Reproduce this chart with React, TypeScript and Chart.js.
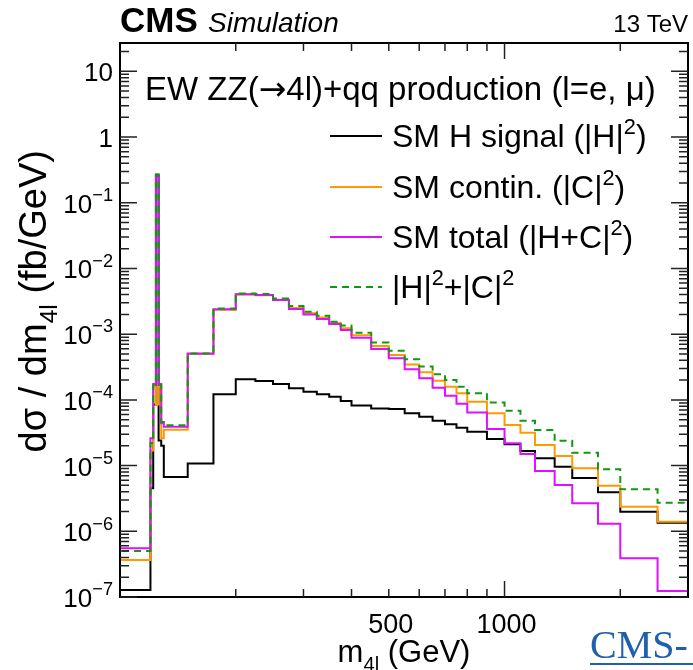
import React, { useEffect, useRef } from 'react';
import { Chart, registerables } from 'chart.js';

Chart.register(...registerables);

// ---------- data ----------
const binEdges = [100, 120, 122, 124, 126, 128, 130, 150, 175, 200, 225, 250, 275, 300, 325, 350, 375, 400, 450, 500, 550, 600, 650, 700, 750, 800, 900, 1000, 1100, 1200, 1350, 1500, 1750, 2000, 2500, 3000];

const signalH = [1.28e-7, 4.5e-6, 8.5e-5, 0.26, 2.4e-5, 2.0e-5, 6.7e-6, 1.08e-5, 1.22e-4, 2.06e-4, 1.94e-4, 1.75e-4, 1.5e-4, 1.33e-4, 1.22e-4, 1.12e-4, 9.6e-5, 8.2e-5, 7.4e-5, 7.26e-5, 6.25e-5, 5.56e-5, 4.83e-5, 4.25e-5, 3.78e-5, 3.28e-5, 2.54e-5, 2.11e-5, 1.67e-5, 1.29e-5, 9.6e-6, 6.5e-6, 3.92e-6, 1.99e-6, 1.35e-6];

const continuumC = [3.65e-7, 1.7e-5, 1.6e-4, 8.5e-5, 1.6e-4, 2.6e-5, 3.5e-5, 5.0e-4, 2.35e-3, 4.0e-3, 3.9e-3, 3.35e-3, 2.5e-3, 2.08e-3, 1.8e-3, 1.48e-3, 1.23e-3, 9.6e-4, 6.6e-4, 4.82e-4, 3.47e-4, 2.63e-4, 1.96e-4, 1.59e-4, 1.26e-4, 9.4e-5, 6.25e-5, 4.15e-5, 3.17e-5, 2.06e-5, 1.4e-5, 9.1e-6, 4.95e-6, 2.37e-6, 1.4e-6];

const totalHC = [5.5e-7, 2.6e-5, 1.75e-4, 0.27, 1.75e-4, 4.4e-5, 3.9e-5, 5.1e-4, 2.39e-3, 4.05e-3, 3.95e-3, 3.32e-3, 2.42e-3, 2.0e-3, 1.7e-3, 1.43e-3, 1.16e-3, 8.86e-4, 5.95e-4, 4.3e-4, 2.92e-4, 2.13e-4, 1.53e-4, 1.16e-4, 8.7e-5, 6.4e-5, 3.6e-5, 2.18e-5, 1.5e-5, 8.3e-6, 5.07e-6, 2.67e-6, 1.3e-6, 3.88e-7, 1.23e-7];

const sumH2C2 = [5.0e-7, 2.2e-5, 1.7e-4, 0.27, 1.7e-4, 4.6e-5, 4.1e-5, 5.1e-4, 2.45e-3, 4.15e-3, 4.1e-3, 3.5e-3, 2.68e-3, 2.2e-3, 1.91e-3, 1.55e-3, 1.35e-3, 1.05e-3, 7.5e-4, 5.61e-4, 4.14e-4, 3.21e-4, 2.45e-4, 2.01e-4, 1.59e-4, 1.26e-4, 9.1e-5, 6.85e-5, 4.83e-5, 3.48e-5, 2.39e-5, 1.57e-5, 8.8e-6, 4.36e-6, 2.73e-6];

const X_MIN = 100;
const X_MAX = 3000;
const Y_MIN = 1e-7;
const Y_MAX = 27;

const yLabelExponents = [1, 0, -1, -2, -3, -4, -5, -6, -7];
const xMinorTickValues = [200, 300, 400, 500, 600, 700, 800, 900, 2000];
const xMajorTickValues = [1000];
const xTickLabels = [500, 1000];

const FONT = '"Liberation Sans", Arial, Helvetica, sans-serif';
const SERIF = '"Liberation Serif", "Times New Roman", serif';
const SYMBOL = '"DejaVu Sans", sans-serif';

type Part = { t: string; s: number; dy?: number; f?: string; fam?: string };

function sup(t: string, base: number): Part {
  return { t, s: base * 0.68, dy: -base * 0.42 };
}
function sub(t: string, base: number): Part {
  return { t, s: base * 0.65, dy: base * 0.28 };
}

function drawRich(ctx: CanvasRenderingContext2D, parts: Part[], x: number, y: number, align: 'left' | 'right' | 'center') {
  const fontOf = (p: Part) => `${p.f || ''} ${p.s}px ${p.fam || FONT}`;
  const widths = parts.map((p) => {
    ctx.font = fontOf(p);
    return ctx.measureText(p.t).width;
  });
  const total = widths.reduce((a, b) => a + b, 0);
  let cx = align === 'left' ? x : align === 'right' ? x - total : x - total / 2;
  ctx.textAlign = 'left';
  ctx.textBaseline = 'alphabetic';
  parts.forEach((p, i) => {
    ctx.font = fontOf(p);
    ctx.fillText(p.t, cx, y + (p.dy || 0));
    cx += widths[i];
  });
}

const LEG = 32;
const legendEntries: { parts: Part[]; color: string; dash: number[] }[] = [
  { parts: [{ t: 'SM H signal (|H|', s: LEG }, sup('2', LEG), { t: ')', s: LEG }], color: '#000000', dash: [] },
  { parts: [{ t: 'SM contin. (|C|', s: LEG }, sup('2', LEG), { t: ')', s: LEG }], color: '#ff9900', dash: [] },
  { parts: [{ t: 'SM total (|H+C|', s: LEG }, sup('2', LEG), { t: ')', s: LEG }], color: '#dd11ff', dash: [] },
  { parts: [{ t: '|H|', s: LEG }, sup('2', LEG), { t: '+|C|', s: LEG }, sup('2', LEG)], color: '#119911', dash: [7, 5] },
];

function toSteps(values: number[]) {
  const pts: { x: number; y: number }[] = [{ x: binEdges[0], y: Y_MIN }];
  values.forEach((v, i) => pts.push({ x: binEdges[i], y: v }));
  pts.push({ x: binEdges[binEdges.length - 1], y: values[values.length - 1] });
  return pts;
}

const rootStyle = {
  id: 'rootStyle',
  afterDatasetsDraw(chart: any) {
    const ctx: CanvasRenderingContext2D = chart.ctx;
    const xs = chart.scales.x;
    const ys = chart.scales.y;
    const { left, right, top, bottom } = chart.chartArea;
    ctx.save();
    ctx.fillStyle = '#000';
    ctx.strokeStyle = '#000';

    // frame
    ctx.lineWidth = 2;
    ctx.strokeRect(left, top, right - left, bottom - top);

    // y ticks
    ctx.lineWidth = 1.5;
    ctx.strokeStyle = '#222';
    for (let d = -7; d <= 1; d++) {
      for (let k = 1; k <= 9; k++) {
        const v = k * Math.pow(10, d);
        if (v < Y_MIN || v > Y_MAX) continue;
        const py = ys.getPixelForValue(v);
        const len = k === 1 ? 17 : 9;
        ctx.beginPath();
        ctx.moveTo(left, py);
        ctx.lineTo(left + len, py);
        ctx.moveTo(right, py);
        ctx.lineTo(right - len, py);
        ctx.stroke();
      }
    }
    // x ticks
    const xt = [...xMinorTickValues.map((v) => [v, 8]), ...xMajorTickValues.map((v) => [v, 16])];
    xt.forEach(([v, len]) => {
      const px = xs.getPixelForValue(v);
      ctx.beginPath();
      ctx.moveTo(px, bottom);
      ctx.lineTo(px, bottom - len);
      ctx.moveTo(px, top);
      ctx.lineTo(px, top + len);
      ctx.stroke();
    });

    // y tick labels
    const TL = 26;
    yLabelExponents.forEach((e) => {
      const py = ys.getPixelForValue(Math.pow(10, e));
      let parts: Part[];
      if (e === 1) parts = [{ t: '10', s: TL }];
      else if (e === 0) parts = [{ t: '1', s: TL }];
      else parts = [{ t: '10', s: TL }, { t: '\u2212' + String(-e), s: TL * 0.7, dy: -TL * 0.45 }];
      drawRich(ctx, parts, left - 7, py + 10, 'right');
    });

    // x tick labels
    xTickLabels.forEach((v) => {
      const px = xs.getPixelForValue(v);
      drawRich(ctx, [{ t: String(v), s: 27 }], px + 2, bottom + 36, 'center');
    });

    // axis titles
    const AT = 31;
    drawRich(ctx, [{ t: 'm', s: AT }, sub('4l', AT), { t: ' (GeV)', s: AT }], (left + right) / 2, 662, 'center');
    ctx.save();
    ctx.translate(46, 150);
    ctx.rotate(-Math.PI / 2);
    const YT = 38;
    drawRich(ctx, [{ t: 'd\u03c3 / dm', s: YT }, sub('4l', YT), { t: ' (fb/GeV)', s: YT }], 0, 0, 'right');
    ctx.restore();

    // header
    drawRich(ctx, [{ t: 'CMS', s: 35, f: 'bold' }], left, 32, 'left');
    drawRich(ctx, [{ t: 'Simulation', s: 28, f: 'italic' }], left + 88, 32, 'left');
    drawRich(ctx, [{ t: '13 TeV', s: 24 }], right, 32, 'right');

    // process label
    const PL = 33;
    drawRich(
      ctx,
      [
        { t: 'EW ZZ(', s: PL },
        { t: '\u2192', s: PL, fam: SYMBOL },
        { t: '4l)+qq production (l=e, \u03bc)', s: PL },
      ],
      left + 25,
      100,
      'left'
    );

    // legend
    const rowBase = [147, 198, 248, 298];
    legendEntries.forEach((en, i) => {
      const yb = rowBase[i];
      ctx.save();
      ctx.strokeStyle = en.color;
      ctx.lineWidth = 2;
      ctx.setLineDash(en.dash);
      ctx.beginPath();
      ctx.moveTo(330, yb - 11);
      ctx.lineTo(382, yb - 11);
      ctx.stroke();
      ctx.restore();
      ctx.fillStyle = '#000';
      drawRich(ctx, en.parts, 392, yb, 'left');
    });

    // blue link fragment
    ctx.fillStyle = '#1f5fae';
    ctx.font = `40px ${SERIF}`;
    ctx.textAlign = 'left';
    ctx.fillText('CMS-', 590, 658);
    ctx.fillRect(590, 663, 110, 2);

    ctx.restore();
  },
};

export default function App() {
  const ref = useRef<HTMLCanvasElement>(null);
  useEffect(() => {
    const mk = (label: string, values: number[], color: string, order: number, dash: number[] = []) => ({
      label,
      data: toSteps(values),
      borderColor: color,
      backgroundColor: color,
      borderWidth: 2,
      borderDash: dash,
      stepped: true as const,
      pointRadius: 0,
      fill: false,
      order,
    });
    const chart = new Chart(ref.current as HTMLCanvasElement, {
      type: 'line',
      data: {
        datasets: [
          mk('SM H signal', signalH, '#000000', 4),
          mk('SM contin.', continuumC, '#ff9900', 3),
          mk('SM total', totalHC, '#dd11ff', 2),
          mk('|H|2+|C|2', sumH2C2, '#119911', 1, [7, 5]),
        ],
      },
      options: {
        animation: false,
        responsive: false,
        maintainAspectRatio: false,
        layout: { padding: { left: 120, right: 5, top: 43, bottom: 73 } },
        plugins: { legend: { display: false }, tooltip: { enabled: false } },
        scales: {
          x: { type: 'logarithmic', min: X_MIN, max: X_MAX, display: false },
          y: { type: 'logarithmic', min: Y_MIN, max: Y_MAX, display: false },
        },
      },
      plugins: [rootStyle],
    });
    return () => chart.destroy();
  }, []);
  return (
    <div style={{ position: 'absolute', left: 0, top: 0, width: 693, height: 670, background: '#fff' }}>
      <canvas ref={ref} width={693} height={670} style={{ width: 693, height: 670 }} />
    </div>
  );
}
